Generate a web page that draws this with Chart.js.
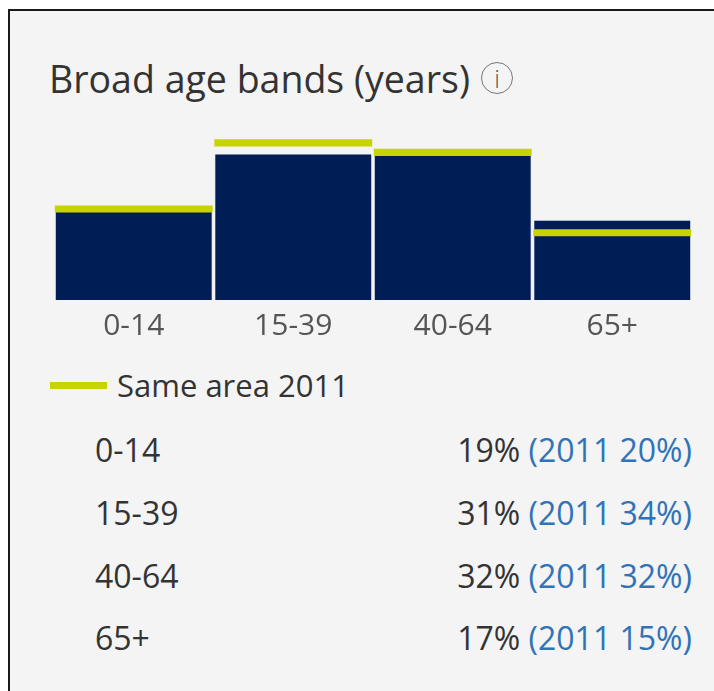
<!DOCTYPE html>
<html>
<head>
<meta charset="utf-8">
<script src="https://cdn.jsdelivr.net/npm/chart.js@4"></script>
<style>
  html, body { margin: 0; padding: 0; background: #fff; width: 714px; height: 691px; overflow: hidden; }
  body { font-family: "Open Sans", sans-serif; color: #333; }
  .panel {
    position: absolute; left: 8px; top: 9px; right: 0; bottom: 0;
    background: #f4f4f4; border-left: 2px solid #1a1a1a; border-top: 2px solid #1a1a1a;
  }
  .title { position: absolute; left: 49px; top: 57px; font-size: 37.5px; line-height: 44px; white-space: nowrap; }
  .info {
    position: absolute; left: 481px; top: 62px; width: 30px; height: 30px;
    border: 1.5px solid #777; border-radius: 50%; color: #555;
    font-size: 25px; font-weight: 300; line-height: 30px; text-align: center;
  }
  .chart-box { position: absolute; left: 54px; top: 111px; width: 638px; height: 241px; }
  .legend { position: absolute; left: 50px; top: 365px; font-size: 31px; line-height: 40px; white-space: nowrap; }
  .legend .swatch { position: absolute; left: 0; top: 17px; width: 57px; height: 7px; background: #c8d400; }
  .legend span.txt { position: absolute; left: 67px; top: 0; }
  .rows { position: absolute; left: 0; top: 0; }
  .row { position: absolute; left: 95px; width: 597px; font-size: 32px; line-height: 40px; white-space: nowrap; }
  .row .val { position: absolute; right: 0; top: 0; }
  .row .old { color: #2f73b8; }
</style>
</head>
<body>
<div class="panel"></div>
<div class="title">Broad age bands (years)</div>
<div class="info">i</div>
<div class="chart-box"><canvas id="chart"></canvas></div>
<div class="legend"><div class="swatch"></div><span class="txt">Same area 2011</span></div>
<div class="rows" id="rows"></div>

<script>
const ageBands = ['0-14', '15-39', '40-64', '65+'];
const share2021 = [19, 31, 32, 17];
const share2011 = [20, 34, 32, 15];

const navy = '#001d56';
const lime = '#c8d400';
const markerDepth = 1.5; // thickness of the 2011 marker, in % units, hangs below the value

// table under the chart
const rowsEl = document.getElementById('rows');
const rowTops = [430, 493, 556, 618];
ageBands.forEach((band, i) => {
  const row = document.createElement('div');
  row.className = 'row';
  row.style.top = rowTops[i] + 'px';
  row.innerHTML = `<span>${band}</span><span class="val">${share2021[i]}% <span class="old">(2011 ${share2011[i]}%)</span></span>`;
  rowsEl.appendChild(row);
});

new Chart(document.getElementById('chart'), {
  type: 'bar',
  data: {
    labels: ageBands,
    datasets: [
      {
        label: 'Same area 2011',
        data: share2011.map(v => [v - markerDepth, v]),
        order: 0,
        grouped: false,
        backgroundColor: lime,
        borderWidth: 0,
        categoryPercentage: 1,
        barPercentage: 0.99,
      },
      {
        label: '2021',
        data: share2021,
        order: 1,
        grouped: false,
        backgroundColor: navy,
        borderColor: '#e9edf3',
        borderWidth: 1,
        categoryPercentage: 1,
        barPercentage: 0.99,
      },
    ],
  },
  options: {
    responsive: true,
    maintainAspectRatio: false,
    animation: false,
    events: [],
    layout: { padding: 0 },
    plugins: { legend: { display: false }, tooltip: { enabled: false } },
    scales: {
      x: {
        grid: { display: false, drawTicks: false },
        border: { display: false },
        ticks: { color: '#555', font: { family: 'Open Sans', size: 30 }, padding: 8 },
      },
      y: {
        display: false,
        min: 0,
        max: 40,
      },
    },
  },
});
</script>
</body>
</html>
